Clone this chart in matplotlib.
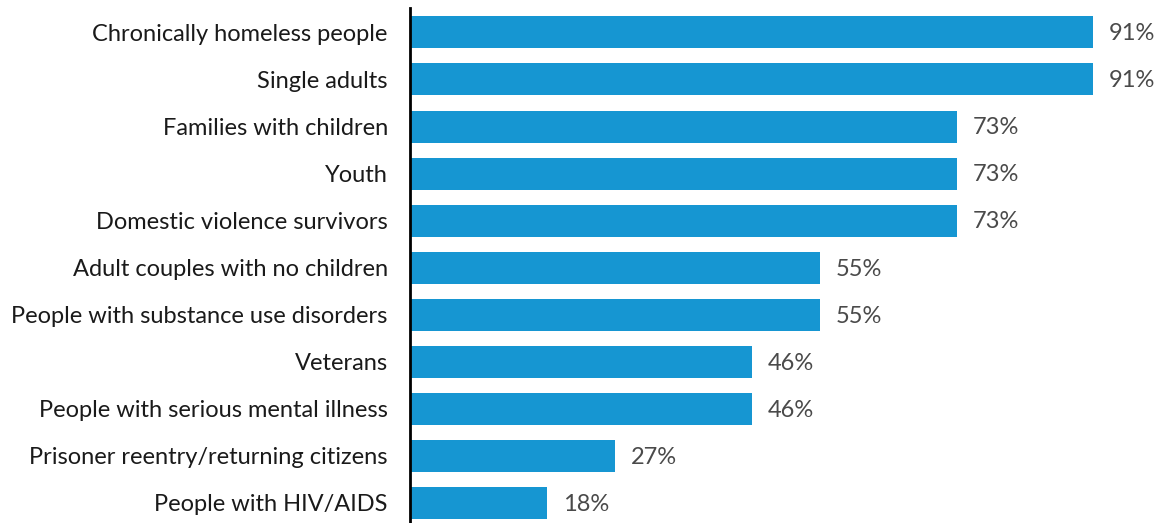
import matplotlib
matplotlib.use('Agg')
import matplotlib.pyplot as plt

# datos (porcentajes sobre 11 respuestas)
categorias = ['Chronically homeless people', 'Single adults', 'Families with children', 'Youth',
              'Domestic violence survivors', 'Adult couples with no children',
              'People with substance use disorders', 'Veterans',
              'People with serious mental illness', 'Prisoner reentry/returning citizens',
              'People with HIV/AIDS']
valores = [90.9, 90.9, 72.7, 72.7, 72.7, 54.5, 54.5, 45.5, 45.5, 27.3, 18.2]
etiquetas = ['91%', '91%', '73%', '73%', '73%', '55%', '55%', '46%', '46%', '27%', '18%']

plt.rcParams['font.family'] = ['Lato', 'DejaVu Sans']

fig = plt.figure(figsize=(11.64, 5.23), dpi=100)
ax = fig.add_axes([410 / 1164, 0, 1 - 410 / 1164, 515 / 523])

y = list(range(len(categorias)))
ax.barh(y, valores, height=0.68, color='#1696d2')

for yi, v, t in zip(y, valores, etiquetas):
    ax.text(v + 2.1, yi + 0.03, t, va='center', ha='left', fontsize=17, color='#4a4a4a')

ax.set_xlim(0, 100.3)
ax.set_ylim(10.43, -0.52)
ax.set_yticks(y)
ax.set_yticklabels(categorias, fontsize=17, color='#1a1a1a')
ax.tick_params(axis='y', length=0, pad=16)
ax.set_xticks([])

for s in ['top', 'right', 'bottom']:
    ax.spines[s].set_visible(False)
ax.spines['left'].set_linewidth(2)
ax.spines['left'].set_color('black')

fig.savefig('out.png', dpi=100)
